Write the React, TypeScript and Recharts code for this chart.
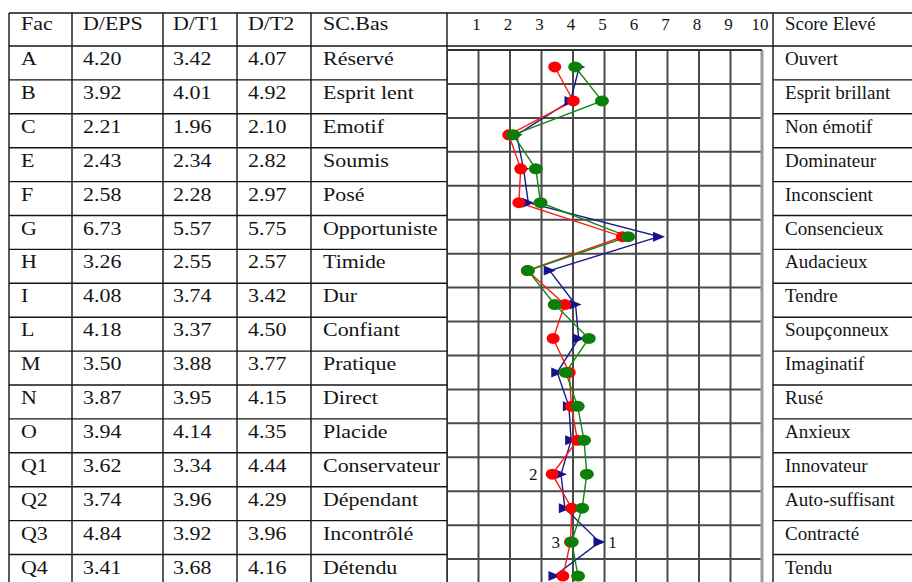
import React from 'react';
import {
  CartesianGrid,
  Line,
  LineChart,
  ReferenceLine,
  XAxis,
  YAxis,
} from 'recharts';

const facs = ['A', 'B', 'C', 'E', 'F', 'G', 'H', 'I', 'L', 'M', 'N', 'O', 'Q1', 'Q2', 'Q3', 'Q4'];
const dEps = [4.2, 3.92, 2.21, 2.43, 2.58, 6.73, 3.26, 4.08, 4.18, 3.5, 3.87, 3.94, 3.62, 3.74, 4.84, 3.41];
const dT1 = [3.42, 4.01, 1.96, 2.34, 2.28, 5.57, 2.55, 3.74, 3.37, 3.88, 3.95, 4.14, 3.34, 3.96, 3.92, 3.68];
const dT2 = [4.07, 4.92, 2.1, 2.82, 2.97, 5.75, 2.57, 3.42, 4.5, 3.77, 4.15, 4.35, 4.44, 4.29, 3.96, 4.16];
const lowLabels = [
  'Réservé', 'Esprit lent', 'Emotif', 'Soumis', 'Posé', 'Opportuniste', 'Timide', 'Dur',
  'Confiant', 'Pratique', 'Direct', 'Placide', 'Conservateur', 'Dépendant', 'Incontrôlé', 'Détendu',
];
const highLabels = [
  'Ouvert', 'Esprit brillant', 'Non émotif', 'Dominateur', 'Inconscient', 'Consencieux', 'Audacieux', 'Tendre',
  'Soupçonneux', 'Imaginatif', 'Rusé', 'Anxieux', 'Innovateur', 'Auto-suffisant', 'Contracté', 'Tendu',
];
const headers = ['Fac', 'D/EPS', 'D/T1', 'D/T2', 'SC.Bas'];
const scoreTicks = [1, 2, 3, 4, 5, 6, 7, 8, 9, 10];

const rows = facs.map((fac, i) => ({ fac, eps: dEps[i], t1: dT1[i], t2: dT2[i] }));

// layout
const COL_X = [9, 72, 163, 237, 311, 447];
const TEXT_X = [21, 83, 173, 248, 323];
const RIGHT_X = 773;
const TOP = 13;
const HEAD_H = 33;
const ROW_H = 33.9;
const FONT = '"Liberation Serif", "Times New Roman", serif';
const INK = '#141414';

const CHART_W = 326;
const CHART_H = 580;
const AXIS_H = 37;
const PLOT_H = CHART_H - AXIS_H;
const BAND = PLOT_H / facs.length;
const gridRows = Array.from({ length: facs.length + 1 }, (_, k) => AXIS_H + k * BAND);

function Cell({ x, y, text, sx }: { x: number; y: number; text: string; sx: number }) {
  return (
    <text transform={`translate(${x},${y}) scale(${sx},1)`} fontSize={18} fontFamily={FONT} fill={INK}>
      {text}
    </text>
  );
}

function Table() {
  const bodyTop = TOP + HEAD_H;
  const lines: React.ReactNode[] = [];
  lines.push(<line key="t" x1={COL_X[0]} x2={912} y1={TOP} y2={TOP} />);
  lines.push(<line key="h" x1={COL_X[0]} x2={912} y1={bodyTop} y2={bodyTop} />);
  for (let k = 1; k < facs.length; k++) {
    const y = bodyTop + k * ROW_H;
    lines.push(<line key={`l${k}`} x1={COL_X[0]} x2={COL_X[5]} y1={y} y2={y} />);
    lines.push(<line key={`r${k}`} x1={RIGHT_X} x2={912} y1={y} y2={y} />);
  }
  [...COL_X, RIGHT_X].forEach((x) => lines.push(<line key={`v${x}`} x1={x} x2={x} y1={TOP} y2={582} />));

  return (
    <svg width={912} height={582} style={{ position: 'absolute', left: 0, top: 0 }}>
      <g stroke={INK} strokeWidth={1.4}>{lines}</g>
      {headers.map((h, c) => (
        <Cell key={h} x={TEXT_X[c]} y={TOP + 17} text={h} sx={1.22} />
      ))}
      <Cell x={RIGHT_X + 12} y={TOP + 17} text="Score Elevé" sx={1.05} />
      {rows.map((r, i) => {
        const y = bodyTop + i * ROW_H + 19;
        const vals = [r.fac, r.eps.toFixed(2), r.t1.toFixed(2), r.t2.toFixed(2), lowLabels[i]];
        return (
          <g key={r.fac}>
            {vals.map((v, c) => (
              <Cell key={c} x={TEXT_X[c]} y={y} text={v} sx={1.22} />
            ))}
            <Cell x={RIGHT_X + 12} y={y} text={highLabels[i]} sx={1.06} />
          </g>
        );
      })}
    </svg>
  );
}

const tri = (color: string) => (p: any) => (
  <path
    key={`tri-${p.index}`}
    d={`M${p.cx - 6},${p.cy - 5}L${p.cx + 6},${p.cy}L${p.cx - 6},${p.cy + 5}Z`}
    fill={color}
  />
);
const oval = (color: string, rx: number, ry: number) => (p: any) => (
  <ellipse key={`ov-${p.index}`} cx={p.cx} cy={p.cy} rx={rx} ry={ry} fill={color} />
);
const tag = (at: number, text: string, dx: number) => (p: any) =>
  p.index === at ? (
    <text key={`tag-${text}`} x={p.x + dx} y={p.y + 6} fontSize={17} fontFamily={FONT} fill={INK} textAnchor="middle">
      {text}
    </text>
  ) : (
    <g key={`tag-${text}-${p.index}`} />
  );

const ScoreTick = (p: any) => (
  <text x={p.x - 2} y={17} textAnchor="middle" fontSize={17} fontFamily={FONT} fill={INK}>
    {p.payload.value}
  </text>
);

export default function App() {
  return (
    <div style={{ position: 'absolute', left: 0, top: 0, width: 912, height: 582, overflow: 'hidden', background: '#fff' }}>
      <Table />
      <div style={{ position: 'absolute', left: COL_X[5], top: TOP }}>
        <LineChart
          width={CHART_W}
          height={CHART_H}
          data={rows}
          layout="vertical"
          margin={{ top: 0, right: 11, bottom: 0, left: 0 }}
        >
          <CartesianGrid horizontalPoints={gridRows} stroke="#4a4a4a" strokeWidth={2} />
          <XAxis
            type="number"
            orientation="top"
            domain={[0, 10]}
            ticks={scoreTicks}
            height={AXIS_H}
            axisLine={{ stroke: '#333', strokeWidth: 2 }}
            tickLine={false}
            tick={ScoreTick}
            interval={0}
          />
          <YAxis type="category" dataKey="fac" hide padding={{ top: BAND / 2, bottom: BAND / 2 }} />
          <ReferenceLine x={0} stroke="#333" strokeWidth={2} />
          <ReferenceLine x={10} stroke="#9a9a9a" strokeWidth={3} />
          <Line
            dataKey="eps"
            stroke="#1a1a8a"
            strokeWidth={1.4}
            dot={tri('#14148a')}
            label={tag(14, '1', 13)}
            isAnimationActive={false}
          />
          <Line
            dataKey="t1"
            stroke="#ff1a1a"
            strokeWidth={1.4}
            dot={oval('#ff0000', 6.5, 5.5)}
            label={tag(12, '2', -19)}
            isAnimationActive={false}
          />
          <Line
            dataKey="t2"
            stroke="#118811"
            strokeWidth={1.4}
            dot={oval('#0a800a', 7, 5.5)}
            label={tag(14, '3', -16)}
            isAnimationActive={false}
          />
        </LineChart>
      </div>
    </div>
  );
}
